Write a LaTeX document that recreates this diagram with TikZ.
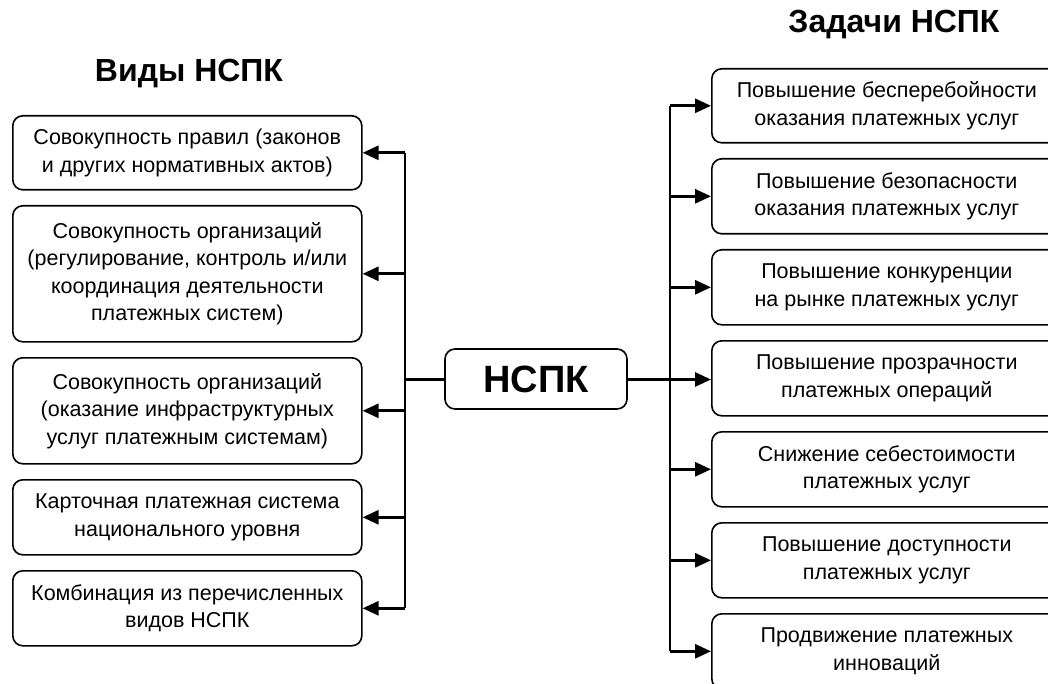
\documentclass[tikz,border=0pt]{standalone}
\usepackage{fontspec}
\setmainfont{Liberation Sans}
\usepackage{tikz}
\usetikzlibrary{arrows.meta}
\usetikzlibrary{positioning}
\tikzset{
    vidbox/.style={
           rectangle,
           rounded corners=10pt,
           draw=black, line width=1.6pt,
           minimum width=349pt,
           minimum height=75pt,
           inner sep=2pt,
           align=center,
           font=\fontsize{21.5}{27.5}\selectfont,
           },
    zadbox/.style={
           vidbox,
           minimum width=350pt,
           },
    title/.style={
           font=\fontsize{32}{36}\selectfont\bfseries,
           },
    bus/.style={
           line width=2.8pt,
           },
}

\begin{document}
\begin{tikzpicture}[x=1pt,y=-1pt,>={Triangle[length=16pt,width=14pt]},node distance=14.4pt]

    \useasboundingbox (0,0) rectangle (1048,684);

    \node[title] (vidtitle) at (189,74) {Виды НСПК};
    \node[title] (zadtitle) at (894,25) {Задачи НСПК};

    \node[rectangle,rounded corners=10pt,draw=black,line width=1.6pt,
          minimum width=182pt,minimum height=60pt,
          font=\fontsize{38}{42}\selectfont\bfseries]
        (nspk) at (536,379) {НСПК};

    % left column
    \node[vidbox,anchor=north west,minimum height=74pt]
        (vid1) at (12,115) {Совокупность правил (законов\\и других нормативных актов)};
    \node[vidbox,below=of vid1,minimum height=136pt]
        (vid2) {Совокупность организаций\\(регулирование, контроль и/или\\координация деятельности\\платежных систем)};
    \node[vidbox,below=of vid2,minimum height=106pt]
        (vid3) {Совокупность организаций\\(оказание инфраструктурных\\услуг платежным системам)};
    \node[vidbox,below=of vid3]
        (vid4) {Карточная платежная система\\национального уровня};
    \node[vidbox,below=of vid4]
        (vid5) {Комбинация из перечисленных\\видов НСПК};

    % right column
    \node[zadbox,anchor=north west,minimum height=74pt]
        (zad1) at (711,68) {Повышение бесперебойности\\оказания платежных услуг};
    \node[zadbox,below=of zad1]
        (zad2) {Повышение безопасности\\оказания платежных услуг};
    \node[zadbox,below=of zad2]
        (zad3) {Повышение конкуренции\\на рынке платежных услуг};
    \node[zadbox,below=of zad3]
        (zad4) {Повышение прозрачности\\платежных операций};
    \node[zadbox,below=of zad4]
        (zad5) {Снижение себестоимости\\платежных услуг};
    \node[zadbox,below=of zad5]
        (zad6) {Повышение доступности\\платежных услуг};
    \node[zadbox,below=of zad6]
        (zad7) {Продвижение платежных\\инноваций};

    \coordinate (lbus) at (405,379.5);
    \coordinate (rbus) at (670,379.5);

    % left bus
    \draw[bus] (lbus) -- (lbus -| nspk.west);
    \draw[bus] (lbus |- vid1.east) -- (lbus |- vid5.east);
    \draw[bus,->] (lbus |- vid1.east) -- (vid1.east);
    \draw[bus,->] (lbus |- vid2.east) -- (vid2.east);
    \draw[bus,->] (lbus |- vid3.east) -- (vid3.east);
    \draw[bus,->] (lbus |- vid4.east) -- (vid4.east);
    \draw[bus,->] (lbus |- vid5.east) -- (vid5.east);

    % right bus
    \draw[bus,->] (rbus -| nspk.east) -- (rbus -| zad4.west);
    \draw[bus] (rbus |- zad1.west) -- (rbus |- zad7.west);
    \draw[bus,->] (rbus |- zad1.west) -- (zad1.west);
    \draw[bus,->] (rbus |- zad2.west) -- (zad2.west);
    \draw[bus,->] (rbus |- zad3.west) -- (zad3.west);
    \draw[bus,->] (rbus |- zad5.west) -- (zad5.west);
    \draw[bus,->] (rbus |- zad6.west) -- (zad6.west);
    \draw[bus,->] (rbus |- zad7.west) -- (zad7.west);

\end{tikzpicture}
\end{document}
